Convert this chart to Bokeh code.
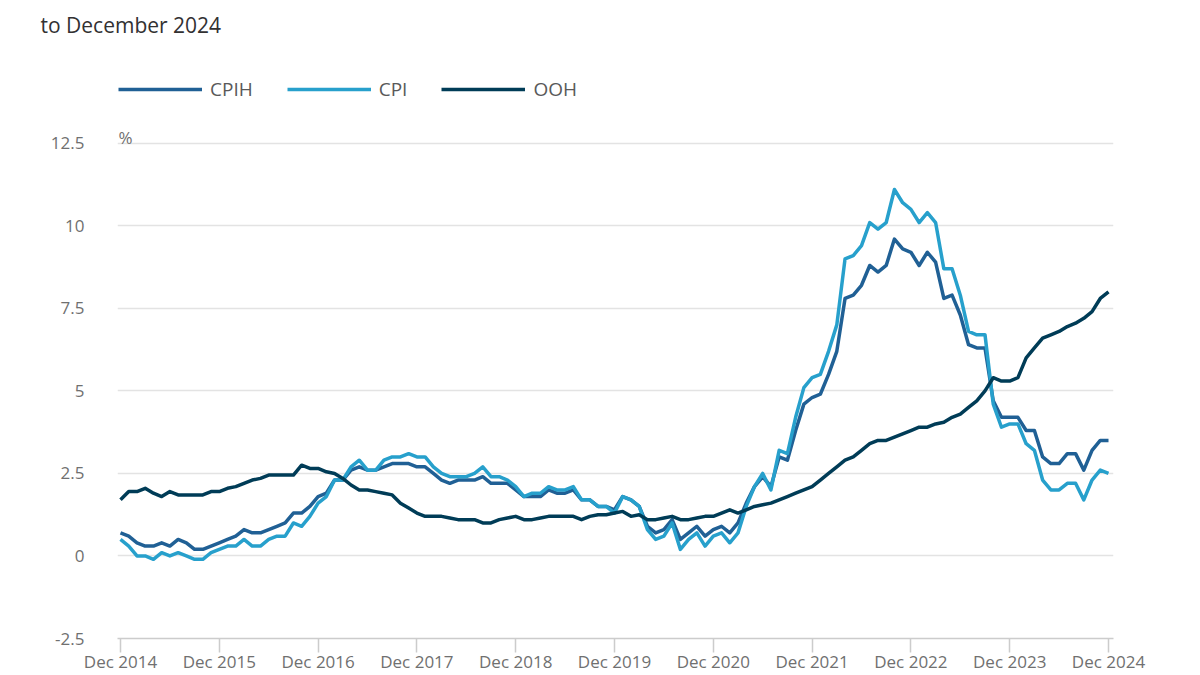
from bokeh.plotting import figure
from bokeh.models import Legend, LegendItem, FixedTicker, Label, Range1d, Title
from bokeh.embed import file_html
from bokeh.resources import INLINE

# ---- data: 12-month rates, Dec 2014 .. Dec 2024 (monthly) ----
tick_labels = ["Dec 2014", "Dec 2015", "Dec 2016", "Dec 2017", "Dec 2018", "Dec 2019",
               "Dec 2020", "Dec 2021", "Dec 2022", "Dec 2023", "Dec 2024"]

cpih = [0.7,
        0.6, 0.4, 0.3, 0.3, 0.4, 0.3, 0.5, 0.4, 0.2, 0.2, 0.3, 0.4,
        0.5, 0.6, 0.8, 0.7, 0.7, 0.8, 0.9, 1.0, 1.3, 1.3, 1.5, 1.8,
        1.9, 2.3, 2.3, 2.6, 2.7, 2.6, 2.6, 2.7, 2.8, 2.8, 2.8, 2.7,
        2.7, 2.5, 2.3, 2.2, 2.3, 2.3, 2.3, 2.4, 2.2, 2.2, 2.2, 2.0,
        1.8, 1.8, 1.8, 2.0, 1.9, 1.9, 2.0, 1.7, 1.7, 1.5, 1.5, 1.4,
        1.8, 1.7, 1.5, 0.9, 0.7, 0.8, 1.1, 0.5, 0.7, 0.9, 0.6, 0.8,
        0.9, 0.7, 1.0, 1.6, 2.1, 2.4, 2.1, 3.0, 2.9, 3.8, 4.6, 4.8,
        4.9, 5.5, 6.2, 7.8, 7.9, 8.2, 8.8, 8.6, 8.8, 9.6, 9.3, 9.2,
        8.8, 9.2, 8.9, 7.8, 7.9, 7.3, 6.4, 6.3, 6.3, 4.7, 4.2, 4.2,
        4.2, 3.8, 3.8, 3.0, 2.8, 2.8, 3.1, 3.1, 2.6, 3.2, 3.5, 3.5]

cpi = [0.5,
       0.3, 0.0, 0.0, -0.1, 0.1, 0.0, 0.1, 0.0, -0.1, -0.1, 0.1, 0.2,
       0.3, 0.3, 0.5, 0.3, 0.3, 0.5, 0.6, 0.6, 1.0, 0.9, 1.2, 1.6,
       1.8, 2.3, 2.3, 2.7, 2.9, 2.6, 2.6, 2.9, 3.0, 3.0, 3.1, 3.0,
       3.0, 2.7, 2.5, 2.4, 2.4, 2.4, 2.5, 2.7, 2.4, 2.4, 2.3, 2.1,
       1.8, 1.9, 1.9, 2.1, 2.0, 2.0, 2.1, 1.7, 1.7, 1.5, 1.5, 1.3,
       1.8, 1.7, 1.5, 0.8, 0.5, 0.6, 1.0, 0.2, 0.5, 0.7, 0.3, 0.6,
       0.7, 0.4, 0.7, 1.5, 2.1, 2.5, 2.0, 3.2, 3.1, 4.2, 5.1, 5.4,
       5.5, 6.2, 7.0, 9.0, 9.1, 9.4, 10.1, 9.9, 10.1, 11.1, 10.7, 10.5,
       10.1, 10.4, 10.1, 8.7, 8.7, 7.9, 6.8, 6.7, 6.7, 4.6, 3.9, 4.0,
       4.0, 3.4, 3.2, 2.3, 2.0, 2.0, 2.2, 2.2, 1.7, 2.3, 2.6, 2.5]

ooh = [1.7,
       1.95, 1.95, 2.05, 1.9, 1.8, 1.95, 1.85, 1.85, 1.85, 1.85, 1.95, 1.95,
       2.05, 2.1, 2.2, 2.3, 2.35, 2.45, 2.45, 2.45, 2.45, 2.75, 2.65, 2.65,
       2.55, 2.5, 2.35, 2.15, 2.0, 2.0, 1.95, 1.9, 1.85, 1.6, 1.45, 1.3,
       1.2, 1.2, 1.2, 1.15, 1.1, 1.1, 1.1, 1.0, 1.0, 1.1, 1.15, 1.2,
       1.1, 1.1, 1.15, 1.2, 1.2, 1.2, 1.2, 1.1, 1.2, 1.25, 1.25, 1.3,
       1.35, 1.2, 1.25, 1.1, 1.1, 1.15, 1.2, 1.1, 1.1, 1.15, 1.2, 1.2,
       1.3, 1.4, 1.3, 1.4, 1.5, 1.55, 1.6, 1.7, 1.8, 1.9, 2.0, 2.1,
       2.3, 2.5, 2.7, 2.9, 3.0, 3.2, 3.4, 3.5, 3.5, 3.6, 3.7, 3.8,
       3.9, 3.9, 4.0, 4.05, 4.2, 4.3, 4.5, 4.7, 5.0, 5.4, 5.3, 5.3,
       5.4, 6.0, 6.3, 6.6, 6.7, 6.8, 6.95, 7.05, 7.2, 7.4, 7.8, 8.0]

months = list(range(len(cpi)))
y_ticks = [-2.5, 0, 2.5, 5, 7.5, 10, 12.5]
y_tick_labels = ["-2.5", "0", "2.5", "5", "7.5", "10", "12.5"]

FONT = "Open Sans"
C_CPIH = "#206095"
C_CPI = "#27a0cc"
C_OOH = "#003c57"

# frame extends above the top tick so that legend and unit label sit inside it
p = figure(width=1200, height=675, output_backend="svg", toolbar_location=None,
           x_range=Range1d(-0.364, 120.607), y_range=Range1d(-2.5, 15.675),
           min_border_left=117, min_border_right=87, min_border_top=38,
           min_border_bottom=36)
p.outline_line_color = None
p.background_fill_color = "white"
p.border_fill_color = "white"

title = Title(text="to December 2024", align="left", offset=-77, standoff=0,
              text_font=FONT, text_font_size="21px", text_font_style="normal",
              text_color="#323132")
p.add_layout(title, "above")

r1 = p.line(months, cpih, line_color=C_CPIH, line_width=3.5, line_join="round")
r2 = p.line(months, cpi, line_color=C_CPI, line_width=3.5, line_join="round")
r3 = p.line(months, ooh, line_color=C_OOH, line_width=3.5, line_join="round")

# x axis
xa = p.xaxis[0]
xa.ticker = FixedTicker(ticks=[12 * i for i in range(len(tick_labels))])
xa.major_label_overrides = {12 * i: t for i, t in enumerate(tick_labels)}
xa.axis_line_color = "#cccccc"
xa.axis_line_width = 1.5
xa.major_tick_line_color = "#cccccc"
xa.major_tick_line_width = 1.5
xa.major_tick_in = 0
xa.major_tick_out = 14
xa.minor_tick_line_color = None
xa.major_label_standoff = -3
xa.major_label_text_font = FONT
xa.major_label_text_font_size = "17px"
xa.major_label_text_color = "#707070"

# y axis
ya = p.yaxis[0]
ya.ticker = FixedTicker(ticks=y_ticks)
ya.major_label_overrides = {t: l for t, l in zip(y_ticks, y_tick_labels)}
ya.axis_line_color = None
ya.major_tick_line_color = None
ya.minor_tick_line_color = None
ya.major_label_standoff = 27
ya.major_label_text_font = FONT
ya.major_label_text_font_size = "17px"
ya.major_label_text_color = "#707070"

p.xgrid.grid_line_color = None
p.ygrid.ticker = FixedTicker(ticks=y_ticks)
p.ygrid.grid_line_color = "#e3e3e3"
p.ygrid.grid_line_width = 1.5

# legend
legend = Legend(items=[LegendItem(label="CPIH", renderers=[r1]),
                       LegendItem(label="CPI", renderers=[r2]),
                       LegendItem(label="OOH", renderers=[r3])],
                orientation="horizontal", location=(1, 536),
                glyph_width=84, glyph_height=24, label_height=24,
                label_standoff=8, spacing=34, padding=0, margin=0,
                border_line_color=None, background_fill_alpha=0,
                label_text_font=FONT, label_text_font_size="19px",
                label_text_color="#595959")
p.add_layout(legend, "center")

# unit label
p.add_layout(Label(x=0, y=12.5, x_offset=-2, y_offset=6, text="%",
                   text_font=FONT, text_font_size="17px", text_color="#707070",
                   text_baseline="alphabetic"))

open("out.html", "w").write(file_html(p, INLINE))
